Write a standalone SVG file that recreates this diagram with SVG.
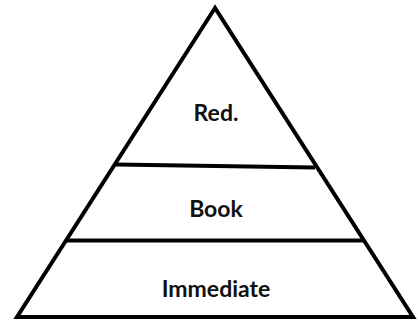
<svg xmlns="http://www.w3.org/2000/svg" width="418" height="322" viewBox="0 0 418 322">
<style>
.edge{fill:none;stroke:#000;stroke-width:4}
.lbl{font-family:Lato,"Liberation Sans",sans-serif;font-weight:bold;font-size:23px;fill:#111;text-anchor:middle}
</style>
<rect width="418" height="322" fill="#fff"/>
<g id="pyramid">
<polygon class="edge" points="215,8 17,317 413,317"/>
</g>
<g id="connectors">
<line class="edge" x1="116" y1="164.5" x2="315" y2="167.5"/>
<line class="edge" x1="67" y1="240.5" x2="363" y2="240.5"/>
</g>
<g id="node-red"><text class="lbl" x="216" y="121">Red.</text></g>
<g id="node-book"><text class="lbl" x="216" y="217">Book</text></g>
<g id="node-immediate"><text class="lbl" x="216" y="297">Immediate</text></g>
</svg>
